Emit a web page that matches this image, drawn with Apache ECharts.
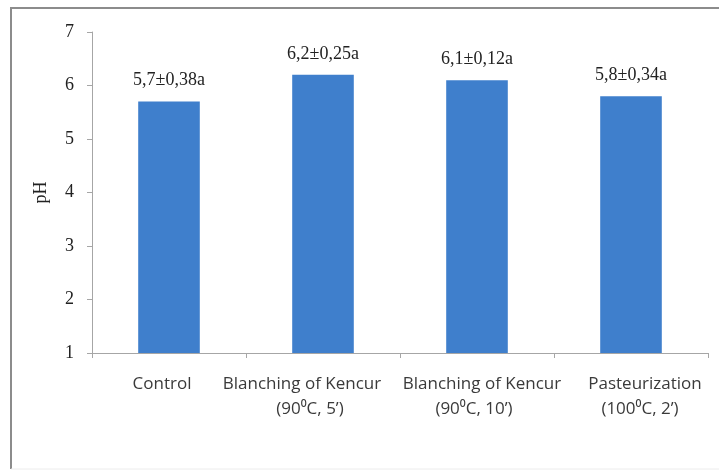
<!DOCTYPE html>
<html>
<head>
<meta charset="utf-8">
<title>pH</title>
<script src="https://cdn.jsdelivr.net/npm/echarts@6/dist/echarts.min.js"></script>
<style>
  html, body { margin: 0; padding: 0; background: #fff; }
  #chart { width: 719px; height: 470px; }
</style>
</head>
<body>
<div id="chart"></div>
<script>
// Treatments on the category axis (one entry per line of the label)
const categories = ['Control', 'Blanching of Kencur', 'Blanching of Kencur', 'Pasteurization'];
const categoryDetails = ['', '(90\u2070C, 5\u2019)', '(90\u2070C, 10\u2019)', '(100\u2070C, 2\u2019)'];
// Mean pH per treatment
const phMean = [5.7, 6.2, 6.1, 5.8];
// Standard deviation per treatment
const phSd = ['0,38', '0,25', '0,12', '0,34'];
// Significance letters
const sigLetters = ['a', 'a', 'a', 'a'];
// Y axis ticks
const yTicks = [1, 2, 3, 4, 5, 6, 7];

// horizontal nudges (px) of each label line, so long names do not collide
const lineShift = [[-7, 0], [-21, -13], [5, -3], [14, 9]];

const chart = echarts.init(document.getElementById('chart'), null, { renderer: 'canvas' });

const fmtMean = v => String(v).replace('.', ',');

const labelFont = {
  color: '#3a3a3a',
  fontFamily: '"Open Sans", sans-serif',
  fontSize: 17,
  lineHeight: 25
};
const rich = {};
lineShift.forEach((pair, i) => {
  pair.forEach((d, j) => {
    rich['c' + i + 'l' + j] = Object.assign({}, labelFont, {
      padding: d > 0 ? [0, 0, 0, 2 * d] : [0, -2 * d, 0, 0]
    });
  });
});

chart.setOption({
  animation: false,
  backgroundColor: '#ffffff',
  graphic: [
    // outer frame: solid top and left edges, faint bottom edge
    { type: 'polyline', shape: { points: [[11, 469], [11, 8], [719, 8]] },
      style: { stroke: '#8c8c8c', lineWidth: 2, fill: 'none' }, z: -10 },
    { type: 'line', shape: { x1: 11, y1: 469, x2: 719, y2: 469 },
      style: { stroke: '#ececec', lineWidth: 1 }, z: -10 }
  ],
  grid: { left: 92, right: 11, top: 32, bottom: 117 },
  xAxis: {
    type: 'category',
    data: categories,
    axisLine: { lineStyle: { color: '#a6a6a6', width: 1 } },
    axisTick: { show: true, length: 5, lineStyle: { color: '#a6a6a6' } },
    axisLabel: Object.assign({
      interval: 0,
      margin: 19,
      rich: rich,
      formatter: (value, idx) => {
        let s = '{c' + idx + 'l0|' + value + '}';
        if (categoryDetails[idx]) s += '\n{c' + idx + 'l1|' + categoryDetails[idx] + '}';
        return s;
      }
    }, labelFont)
  },
  yAxis: {
    type: 'value',
    min: yTicks[0],
    max: yTicks[yTicks.length - 1],
    interval: 1,
    name: 'pH',
    nameLocation: 'middle',
    nameRotate: 90,
    nameGap: 42,
    nameTextStyle: {
      fontFamily: '"Liberation Serif", serif',
      fontSize: 18,
      color: '#222'
    },
    splitLine: { show: false },
    axisLine: { show: true, lineStyle: { color: '#a6a6a6', width: 1 } },
    axisTick: { show: true, length: 5, lineStyle: { color: '#a6a6a6' } },
    axisLabel: {
      margin: 18,
      color: '#222',
      fontFamily: '"Liberation Serif", serif',
      fontSize: 18
    }
  },
  series: [{
    type: 'bar',
    data: phMean,
    barCategoryGap: '60%',
    itemStyle: { color: '#3f7fcc' },
    label: {
      show: true,
      position: 'top',
      distance: 12,
      color: '#222',
      fontFamily: '"Liberation Serif", serif',
      fontSize: 18,
      formatter: p => fmtMean(p.value) + '\u00b1' + phSd[p.dataIndex] + sigLetters[p.dataIndex]
    }
  }]
});
</script>
</body>
</html>
